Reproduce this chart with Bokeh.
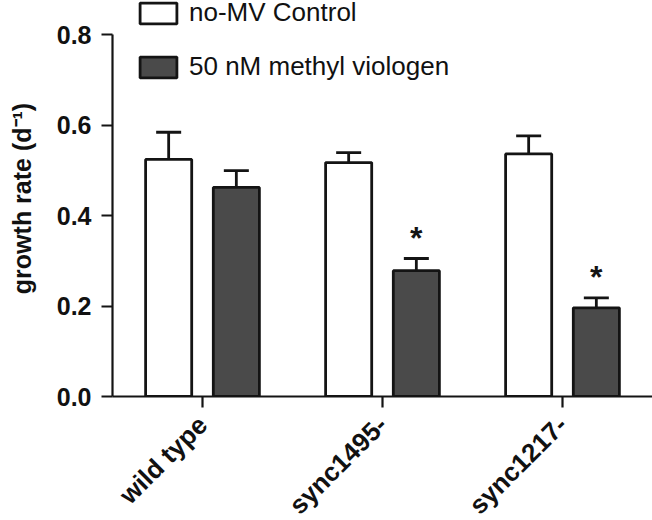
from bokeh.plotting import figure
from bokeh.models import FactorRange, Legend, LegendItem, Whisker, ColumnDataSource, TeeHead, FixedTicker, PrintfTickFormatter
from bokeh.transform import dodge
from bokeh.core.properties import value
from bokeh.embed import file_html
from bokeh.resources import INLINE
import math

strains = ["wild type", "sync1495-", "sync1217-"]
control = [0.524, 0.517, 0.536]
control_err = [0.060, 0.022, 0.040]
mv = [0.462, 0.278, 0.196]
mv_err = [0.037, 0.027, 0.022]
star_marks = ["", "*", "*"]
y_ticks = [0.0, 0.2, 0.4, 0.6, 0.8]

OFF = 0.188
BW = 0.256
EDGE = "#141414"
DARK = "#4a4a4a"
FONT = "Liberation Sans"

src = ColumnDataSource(dict(
    strain=strains,
    control=control,
    c_up=[v + e for v, e in zip(control, control_err)],
    c_lo=[v - e for v, e in zip(control, control_err)],
    mv=mv,
    m_up=[v + e for v, e in zip(mv, mv_err)],
    m_lo=[v - e for v, e in zip(mv, mv_err)],
    star=star_marks,
    star_y=[v + e + 0.045 for v, e in zip(mv, mv_err)],
))

# frame spans the full top of the canvas so the legend (inside the frame) is not clipped;
# the axis itself is bounded to 0 .. 0.8
p = figure(x_range=FactorRange(*strains, range_padding=0), y_range=(0, 0.8 * 396 / 362),
           frame_width=540, frame_height=396, output_backend="svg", toolbar_location=None,
           min_border_left=112, min_border_right=0, min_border_top=0, min_border_bottom=124)

r_c = p.vbar(x=dodge("strain", -OFF, range=p.x_range), top="control", width=BW, source=src,
             fill_color="white", line_color=EDGE, line_width=2.8)
r_m = p.vbar(x=dodge("strain", OFF, range=p.x_range), top="mv", width=BW, source=src,
             fill_color=DARK, line_color=EDGE, line_width=2.8)

for base, up, lo in [(dodge("strain", -OFF, range=p.x_range), "c_up", "c_lo"),
                     (dodge("strain", OFF, range=p.x_range), "m_up", "m_lo")]:
    w = Whisker(base=base, upper=up, lower=lo, source=src, line_color=EDGE, line_width=2.8,
                upper_head=TeeHead(size=25, line_width=2.8, line_color=EDGE),
                lower_head=TeeHead(size=25, line_width=2.8, line_color=EDGE))
    p.add_layout(w)

p.text(x=dodge("strain", OFF, range=p.x_range), y="star_y", text="star", source=src,
       text_font=value(FONT), text_font_style="bold", text_font_size="32px",
       text_align="center", text_baseline="middle", text_color=EDGE)

legend = Legend(items=[LegendItem(label="no-MV Control", renderers=[r_c]),
                       LegendItem(label="50 nM methyl viologen", renderers=[r_m])],
                location=(23, 396 - 82), padding=0, margin=0, spacing=23,
                glyph_width=46, glyph_height=26, label_height=26, label_standoff=8,
                label_text_font=FONT, label_text_font_size="26px", label_text_color="#111111",
                border_line_color=None, background_fill_alpha=0)
p.add_layout(legend, "center")

p.xgrid.visible = False
p.ygrid.visible = False
p.outline_line_color = None

for ax in (p.xaxis[0], p.yaxis[0]):
    ax.axis_line_width = 2.2
    ax.axis_line_color = EDGE
    ax.major_tick_line_width = 2.2
    ax.major_tick_line_color = EDGE
    ax.major_tick_out = 11
    ax.major_tick_in = 0
    ax.minor_tick_line_color = None
    ax.major_label_text_font = FONT
    ax.major_label_text_font_style = "bold"
    ax.major_label_text_color = "#111111"

p.yaxis[0].ticker = FixedTicker(ticks=y_ticks)
p.yaxis[0].bounds = (0, 0.8)
p.yaxis[0].formatter = PrintfTickFormatter(format="%.1f")
p.yaxis[0].major_label_text_font_size = "25px"
p.yaxis[0].major_label_standoff = 10
p.yaxis[0].axis_label = "growth rate (d⁻¹)"
p.yaxis[0].axis_label_text_font = FONT
p.yaxis[0].axis_label_text_font_style = "bold"
p.yaxis[0].axis_label_text_font_size = "25px"
p.yaxis[0].axis_label_text_color = "#111111"
p.yaxis[0].axis_label_standoff = 18

p.xaxis[0].major_label_text_font_size = "26px"
p.xaxis[0].major_label_orientation = math.pi / 4
p.xaxis[0].major_label_standoff = 13

open("out.html", "w").write(file_html(p, INLINE))
